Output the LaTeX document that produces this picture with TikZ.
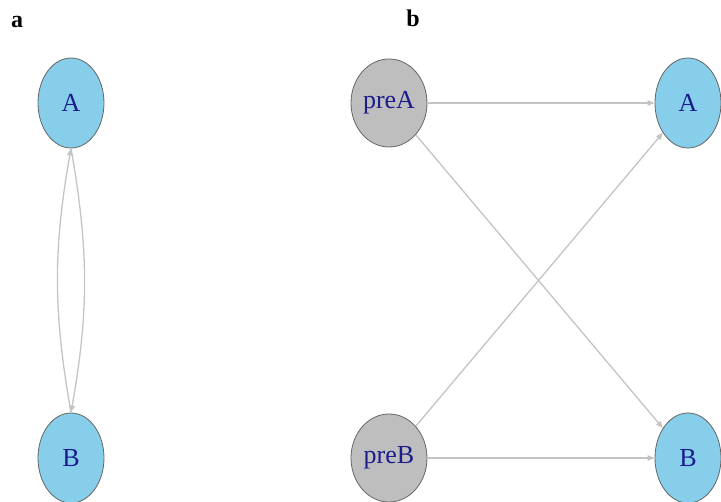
\documentclass[tikz,border=0pt]{standalone}
\usepackage{fontspec}
\setmainfont{Liberation Serif}
\usetikzlibrary{arrows.meta, shapes.geometric}
\definecolor{skyfill}{HTML}{87CEEB}
\definecolor{greyfill}{HTML}{BEBEBE}
\definecolor{labelblue}{HTML}{1C1C8C}
\definecolor{edgegrey}{HTML}{C4C4C4}

\begin{document}
\begin{tikzpicture}[x=1pt, y=-1pt,
  vert/.style={ellipse, draw=black!60, line width=0.8pt, inner sep=0pt, text=labelblue, font=\fontsize{26}{28}\selectfont},
  cur/.style={vert, fill=skyfill, minimum width=66pt, minimum height=90pt},
  pre/.style={vert, fill=greyfill, minimum width=76pt, minimum height=88pt},
  edge/.style={draw=edgegrey, line width=1.3pt, -{Triangle[length=7pt,width=5.5pt]}},
  panel/.style={font=\bfseries\fontsize{24}{26}\selectfont}]
\useasboundingbox (0,0) rectangle (721,502);
% panel a
\node[panel] (labA) at (17,22) {a};
\node[cur] (A1) at (71,103) {A};
\node[cur] (B1) at (71,458) {B};
\draw[edge] (A1.south) to[bend left=10] (B1.north);
\draw[edge] (B1.north) to[bend left=10] (A1.south);
% panel b
\node[panel] (labB) at (413,18) {b};
\node[pre] (preA) at (389,103) {preA};
\node[pre] (preB) at (389,458) {preB};
\node[cur] (A2) at (688,103) {A};
\node[cur] (B2) at (688,458) {B};
\draw[edge] (preA) -- (A2);
\draw[edge] (preA) -- (B2);
\draw[edge] (preB) -- (A2);
\draw[edge] (preB) -- (B2);
\end{tikzpicture}
\end{document}
